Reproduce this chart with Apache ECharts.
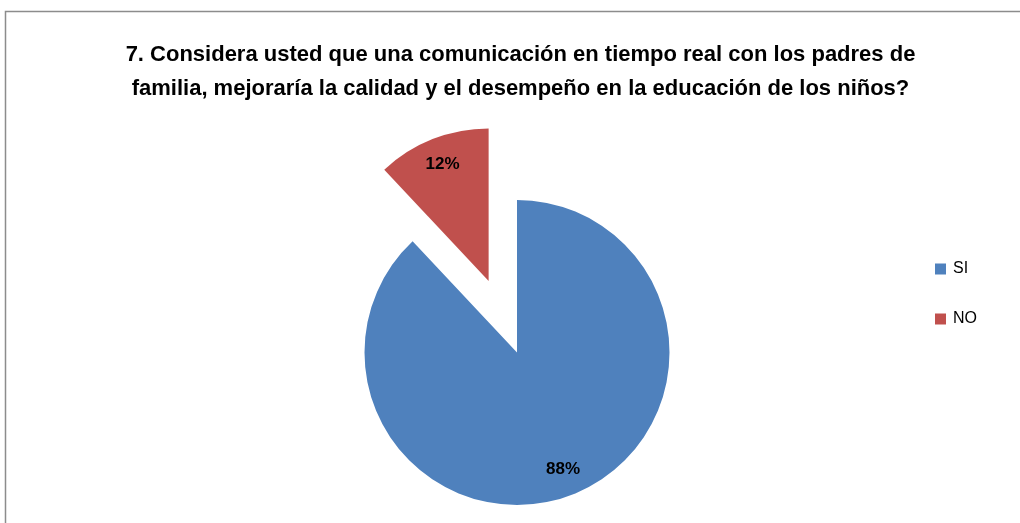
<!DOCTYPE html>
<html><head><meta charset="utf-8">
<script src="https://cdn.jsdelivr.net/npm/echarts@6/dist/echarts.min.js"></script>
<style>html,body{margin:0;padding:0;background:#fff}#c{width:1020px;height:523px}</style>
</head><body><div id="c"></div>
<script>
const titleLines = ["7. Considera usted que una comunicación en tiempo real con los padres de", "familia, mejoraría la calidad y el desempeño en la educación de los niños?"];
const categories = ["SI", "NO"];
const values = [88, 12];
const colors = ["#4F81BD", "#C0504D"];
const selectedCat = "NO";

const font = "Liberation Sans";
const chart = echarts.init(document.getElementById('c'));
const mk = (extra) => categories.map((c, i) => Object.assign({name: c, value: values[i], selected: c === selectedCat}, extra ? extra(i) : {itemStyle: {color: colors[i]}}));
chart.setOption({
  animation: false,
  title: {
    text: titleLines.join("\n"), left: 515.5, top: 33, textAlign: 'center',
    textStyle: {fontFamily: font, fontWeight: 'bold', fontSize: 22, lineHeight: 34, color: '#000'}
  },
  legend: {
    orient: 'vertical', left: 935, top: 261, padding: 0, icon: 'rect', itemWidth: 11, itemHeight: 11, itemGap: 34,
    data: categories, selectedMode: false,
    textStyle: {fontFamily: font, fontSize: 16, lineHeight: 16, color: '#000', padding: [0,0,0,2]}
  },
  graphic: [{type: 'rect', shape: {x: 5.5, y: 11.5, width: 1030, height: 530}, style: {fill: 'none', stroke: '#8c8c8c', lineWidth: 1.5}, silent: true}],
  series: [{
    type: 'pie', center: [517, 352.5], radius: [0, 152.5], startAngle: 90, clockwise: true,
    selectedMode: 'single', selectedOffset: 77, avoidLabelOverlap: false,
    label: {show: false}, labelLine: {show: false}, emphasis: {disabled: true},
    select: {disabled: false}, data: mk()
  }, {
    type: 'pie', center: [517, 352.5], radius: [92, 152.5], startAngle: 90, clockwise: true,
    selectedMode: 'single', selectedOffset: 77, silent: true, avoidLabelOverlap: false,
    label: {show: true, position: 'inside', formatter: '{c}%', fontFamily: font, fontWeight: 'bold', fontSize: 17, color: '#000'},
    labelLine: {show: false}, emphasis: {disabled: true},
    data: mk(i => ({itemStyle: {color: 'rgba(0,0,0,0)'}}))
  }]
});
</script></body></html>
